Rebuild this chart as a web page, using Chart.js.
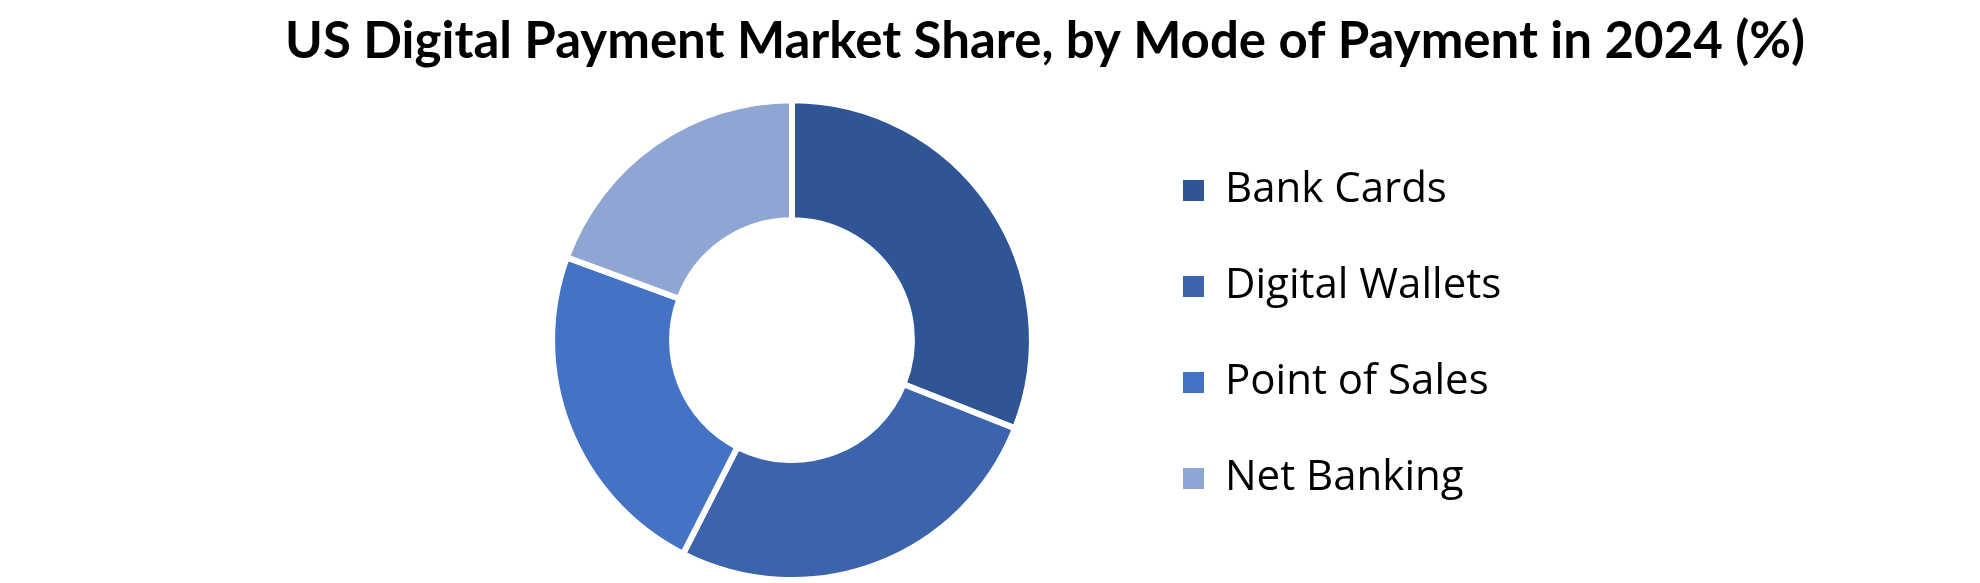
<!DOCTYPE html>
<html>
<head>
<meta charset="utf-8">
<title>US Digital Payment Market Share</title>
<script src="https://cdn.jsdelivr.net/npm/chart.js@4.4.1/dist/chart.umd.min.js"></script>
<style>
    html, body { margin: 0; padding: 0; background: #ffffff; }
    #wrap { width: 1980px; height: 583px; position: relative; }
</style>
</head>
<body>
<div id="wrap"><canvas id="shareChart"></canvas></div>
<script>
// data
const categories = ['Bank Cards', 'Digital Wallets', 'Point of Sales', 'Net Banking'];
const shareValues = [31.0, 26.5, 23.1, 19.4];
const sliceColors = ['#2F5597', '#3B64AD', '#4472C4', '#8FA5D4'];
const chartTitle = 'US Digital Payment Market Share, by Mode of Payment in 2024 (%)';

// legend box is sized/nudged by hand so it sits where the original has it
const legendWidth = 506;
const legendShiftX = -195;
const legendShiftY = 43;

const legendPlace = {
    id: 'legendPlace',
    beforeInit(chart) {
        const fit = chart.legend.fit;
        chart.legend.fit = function() {
            fit.call(this);
            this.width = legendWidth;
        };
    },
    afterLayout(chart) {
        chart.legend.left += legendShiftX;
        chart.legend.right += legendShiftX;
        chart.legend.top += legendShiftY;
        chart.legend.bottom += legendShiftY;
    }
};

const ctx = document.getElementById('shareChart').getContext('2d');

const shareChart = new Chart(ctx, {
    type: 'doughnut',
    data: {
        labels: categories,
        datasets: [{
            data: shareValues,
            backgroundColor: sliceColors,
            borderColor: '#ffffff',
            borderWidth: 6
        }]
    },
    options: {
        responsive: true,
        maintainAspectRatio: false,
        devicePixelRatio: 1,
        animation: false,
        events: [],
        cutout: '50%',
        layout: {
            // title box must be wide enough or Chart.js squeezes the text
            padding: { left: 260, right: 150, top: 0, bottom: 0 }
        },
        plugins: {
            title: {
                display: true,
                text: chartTitle,
                color: '#000000',
                font: { family: 'Lato', size: 51, weight: 'bold' },
                padding: { top: 11, bottom: 25 }
            },
            legend: {
                position: 'right',
                align: 'center',
                labels: {
                    color: '#000000',
                    font: { family: 'Open Sans', size: 42 },
                    boxWidth: 21,
                    boxHeight: 21,
                    padding: 54,
                    generateLabels(chart) {
                        // default doughnut labels, minus the white slice border on the swatches
                        const items = Chart.overrides.doughnut.plugins.legend.labels.generateLabels(chart);
                        items.forEach(item => { item.lineWidth = 0; });
                        return items;
                    }
                }
            },
            tooltip: { enabled: false }
        }
    },
    plugins: [legendPlace]
});
</script>
</body>
</html>
